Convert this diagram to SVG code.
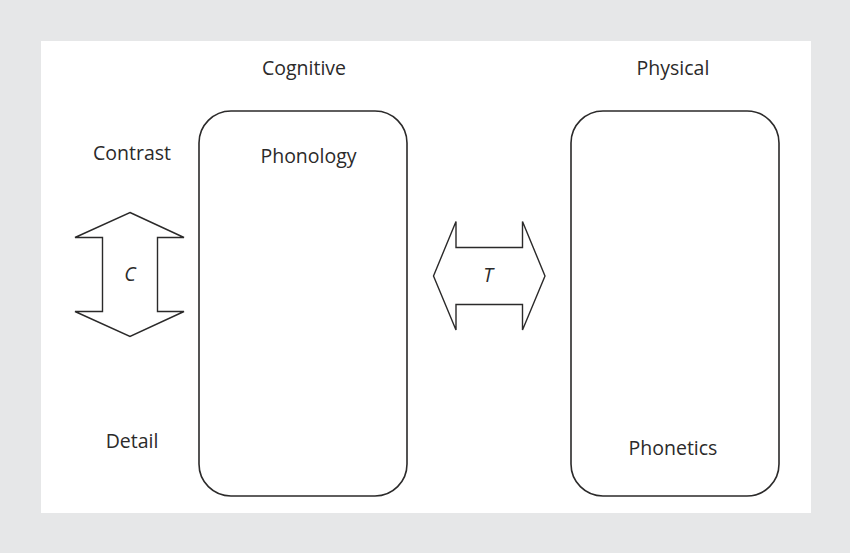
<svg xmlns="http://www.w3.org/2000/svg" width="850" height="553" viewBox="0 0 850 553">
  <style>
    .lbl { font-family: "Open Sans", "Noto Sans", "Liberation Sans", sans-serif; font-size: 19.5px; fill: #2b2a2a; text-anchor: middle; }
    .sym { font-style: italic; }
    .box { fill: #ffffff; stroke: #2b2a2a; stroke-width: 1.6; }
    .arrow { fill: #ffffff; stroke: #2b2a2a; stroke-width: 1.4; stroke-linejoin: miter; }
  </style>
  <!-- page background and panel -->
  <rect x="0" y="0" width="850" height="553" fill="#e6e7e8"/>
  <rect x="41" y="41" width="770" height="472" fill="#ffffff"/>

  <!-- column headings -->
  <text class="lbl" x="304" y="75">Cognitive</text>
  <text class="lbl" x="673" y="75">Physical</text>

  <!-- side labels -->
  <text class="lbl" x="132" y="160">Contrast</text>
  <text class="lbl" x="132" y="448">Detail</text>

  <g id="phonology">
    <rect class="box" x="199" y="111" width="208" height="385" rx="32" ry="32"/>
    <text class="lbl" x="308.5" y="163">Phonology</text>
  </g>

  <g id="phonetics">
    <rect class="box" x="571" y="111" width="208" height="385" rx="32" ry="32"/>
    <text class="lbl" x="673" y="455">Phonetics</text>
  </g>

  <g id="connectors">
    <!-- vertical double arrow C -->
    <g id="arrow-c">
      <polygon class="arrow" points="130,212.5 184,237.5 157.5,237.5 157.5,311.5 184,311.5 130,336.5 75,311.5 102.5,311.5 102.5,237.5 75,237.5"/>
      <text class="lbl sym" x="130" y="281">C</text>
    </g>
    <!-- horizontal double arrow T -->
    <g id="arrow-t">
      <polygon class="arrow" points="433.5,276 456,221.5 456,247.5 522.5,247.5 522.5,221.5 545,276 522.5,330 522.5,304.5 456,304.5 456,330"/>
      <text class="lbl sym" x="488" y="282">T</text>
    </g>
  </g>
</svg>
